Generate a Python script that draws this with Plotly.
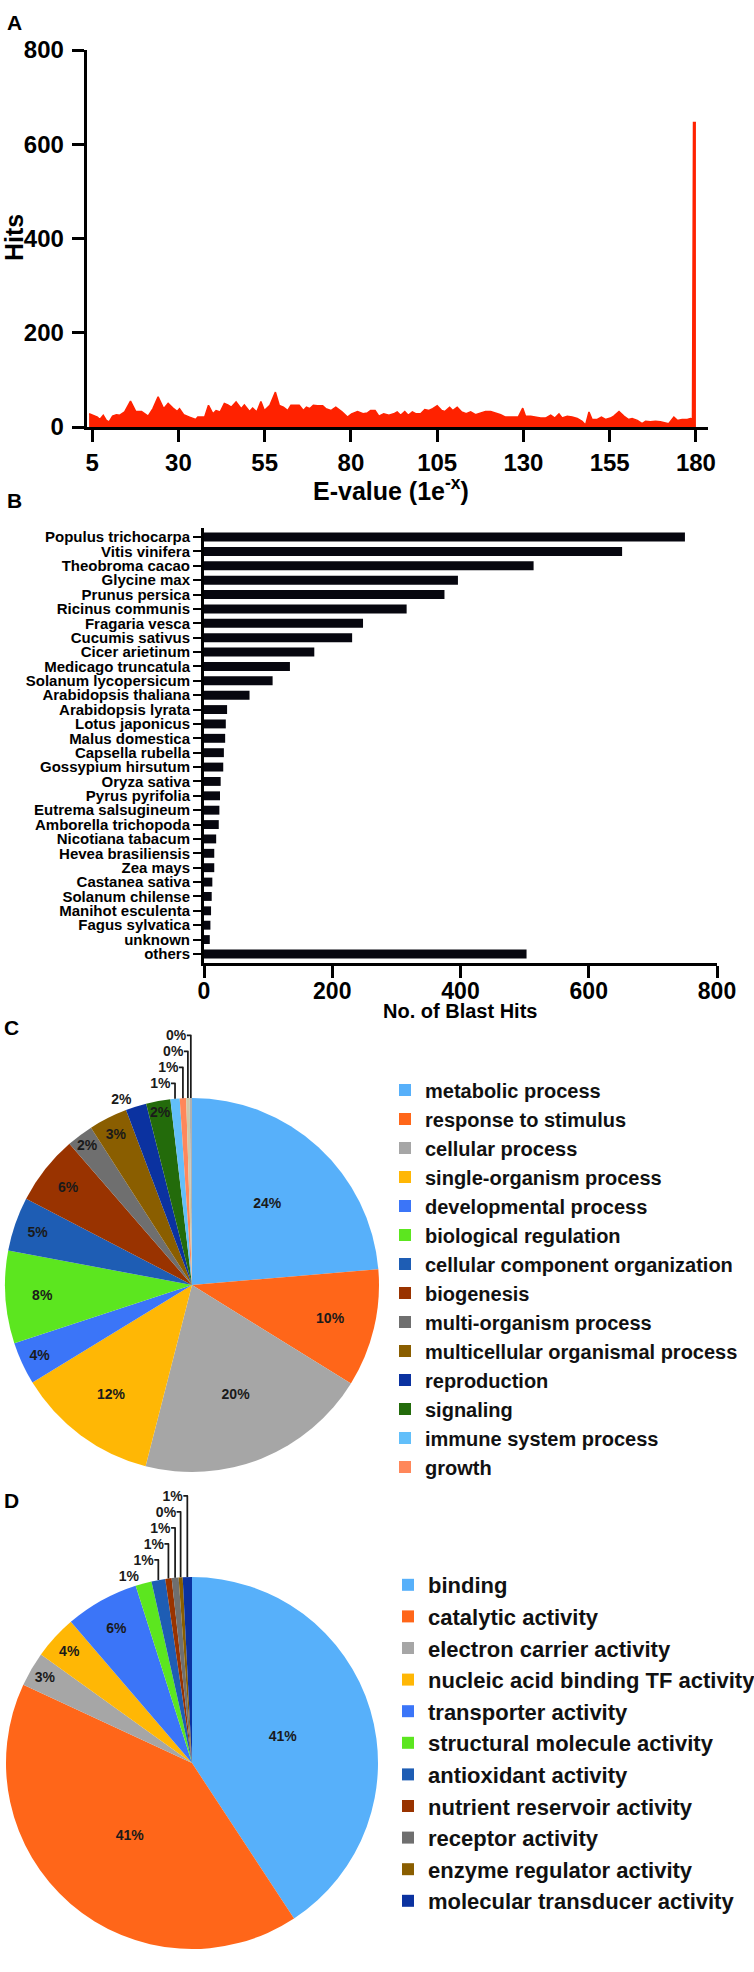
import plotly.graph_objects as go

# ---------------- Panel A: E-value distribution ----------------
evalue_exp = [4.1, 5.3, 6.5, 7.2, 8.2, 9.1, 9.9, 10.9, 12.0, 13.0, 14.4, 16.1, 17.6, 19.3, 21.2, 22.6, 24.1,
              25.7, 27.0, 28.4, 29.6, 30.3, 31.5, 33.2, 35.0, 35.6, 37.6, 38.7, 40.0, 40.9, 42.1, 43.3, 44.3,
              45.3, 46.7, 48.2, 49.1, 50.6, 51.5, 52.7, 53.9, 54.9, 56.5, 58.1, 59.2, 60.4, 61.7, 62.6, 64.1,
              65.0, 66.2, 67.1, 68.1, 69.1, 70.3, 71.8, 72.7, 74.2, 75.6, 77.4, 79.0, 80.2, 81.9, 83.5, 84.8,
              85.7, 87.0,
              88.1, 89.5, 91.0, 92.4, 93.4, 94.4, 95.6, 96.6, 97.8, 98.9, 100.2, 101.4, 102.6, 103.7, 105.0,
              106.3, 107.2, 108.6, 109.5, 110.8, 112.1, 113.4, 114.7, 116.1, 117.6, 119.0, 120.5, 121.9, 123.4,
              124.8, 126.7, 128.5, 129.8, 130.6, 132.1, 133.5, 135.0, 136.4, 137.9, 139.1, 140.3, 141.2, 142.7,
              144.1, 145.6, 147.0, 148.0, 149.0, 149.9, 151.4, 152.6, 153.8, 155.2, 156.2, 157.7, 159.1, 160.4,
              161.5, 163.0, 164.4, 165.4, 166.8, 168.3, 169.7, 171.1, 172.1, 173.6, 174.6, 176.0, 177.5, 178.4,
              179.0, 179.3, 180.0]
hits = [28, 25, 21, 16, 25, 14, 11, 23, 26, 25, 32, 55, 33, 33, 23, 39, 64,
        39, 50, 40, 33, 39, 26, 21, 16, 21, 21, 46, 28, 35, 32, 50, 47,
        42, 53, 39, 47, 33, 40, 32, 54, 35, 46, 74, 46, 42, 35, 46, 46,
        46, 35, 42, 39, 46, 45, 45, 39, 35, 42, 32, 21, 28, 33, 28, 30,
        35, 35,
        23, 28, 25, 28, 32, 25, 33, 25, 32, 28, 28, 37, 35, 39, 45,
        35, 33, 42, 35, 42, 32, 28, 32, 26, 30, 33, 33, 30, 26,
        21, 21, 21, 40, 23, 23, 21, 19, 19, 25, 19, 28, 19, 23,
        21, 18, 12, 4, 32, 16, 16, 21, 16, 19, 23, 33, 23, 16,
        18, 14, 7, 12, 11, 12, 11, 9, 7, 21, 14, 16, 16, 18,
        17, 646, 646]
evalue_ticks = [5, 30, 55, 80, 105, 130, 155, 180]
hits_ticks = [0, 200, 400, 600, 800]

# ---------------- Panel B: species distribution ----------------
species = ["Populus trichocarpa", "Vitis vinifera", "Theobroma cacao", "Glycine max", "Prunus persica",
           "Ricinus communis", "Fragaria vesca", "Cucumis sativus", "Cicer arietinum", "Medicago truncatula",
           "Solanum lycopersicum", "Arabidopsis thaliana", "Arabidopsis lyrata", "Lotus japonicus",
           "Malus domestica", "Capsella rubella", "Gossypium hirsutum", "Oryza sativa", "Pyrus pyrifolia",
           "Eutrema salsugineum", "Amborella trichopoda", "Nicotiana tabacum", "Hevea brasiliensis",
           "Zea mays", "Castanea sativa", "Solanum chilense", "Manihot esculenta", "Fagus sylvatica",
           "unknown", "others"]
blast_hits = [750, 652, 514, 396, 375, 316, 248, 231, 172, 134, 107, 71, 36, 34, 33, 31, 30, 26, 25,
              24, 23, 19, 16, 16, 13, 12, 11, 10, 9, 503]
blast_ticks = [0, 200, 400, 600, 800]

# ---------------- Panel C: biological process ----------------
bp_terms = ["metabolic process", "response to stimulus", "cellular process", "single-organism process",
            "developmental process", "biological regulation", "cellular component organization",
            "biogenesis", "multi-organism process", "multicellular organismal process", "reproduction",
            "signaling", "immune system process", "growth", "unlisted term 1", "unlisted term 2"]
bp_pct = [23.7, 10.2, 20.2, 12.3, 3.7, 8.0, 4.7, 6.0, 2.3, 3.35, 1.8, 2.1, 0.8, 0.55, 0.3, 0.2]
bp_colors = ["#57B0FA", "#FF6619", "#A6A6A6", "#FFB705", "#3B75F8", "#5CE61F", "#1E5DB4", "#993300",
             "#6F6F6F", "#8A5E00", "#0B32A0", "#236B0B", "#62BFFA", "#FF875A", "#CFC8A8", "#B0B0B0"]
bp_in_legend = 14

# ---------------- Panel D: molecular function ----------------
mf_terms = ["binding", "catalytic activity", "electron carrier activity", "nucleic acid binding TF activity",
            "transporter activity", "structural molecule activity", "antioxidant activity",
            "nutrient reservoir activity", "receptor activity", "enzyme regulator activity",
            "molecular transducer activity"]
mf_pct = [40.8, 41.2, 3.0, 3.8, 6.4, 1.4, 1.2, 0.55, 0.6, 0.35, 0.8]
mf_colors = ["#57B0FA", "#FF6619", "#A6A6A6", "#FFB705", "#3B75F8", "#5CE61F", "#1E5DB4", "#993300",
             "#6F6F6F", "#8A5E00", "#0B32A0"]

W, H = 754, 1972
FONT = "Liberation Sans, Arial, Helvetica, sans-serif"


def px(x):
    return x / W


def py(y):
    return 1 - y / H


fig = go.Figure()

# Panel A
fig.add_trace(go.Scatter(x=evalue_exp, y=hits, mode="lines", fill="tozeroy",
                         line=dict(color="#FF2200", width=1.5), fillcolor="#FF2200",
                         xaxis="x", yaxis="y", showlegend=False, hoverinfo="skip"))

# Panel B
fig.add_trace(go.Bar(y=species, x=blast_hits, orientation="h", width=0.62,
                     marker=dict(color="#07070F", line=dict(width=0)),
                     xaxis="x2", yaxis="y2", showlegend=False))

pie_font = dict(family=FONT, size=14, weight="bold", color="#1a1a1a")

# Panel C pie
bp_pos = ["inside"] * 10 + ["outside", "inside", "outside", "outside", "outside", "outside"]
fig.add_trace(go.Pie(labels=bp_terms, values=bp_pct, sort=False, direction="clockwise", rotation=0,
                     marker=dict(colors=bp_colors, line=dict(width=0)),
                     texttemplate="%{percent:.0%}", textposition=bp_pos,
                     insidetextorientation="horizontal",
                     textfont=pie_font, insidetextfont=pie_font, outsidetextfont=pie_font,
                     domain=dict(x=[px(5), px(379)], y=[py(1472), py(1098)]),
                     showlegend=False, hoverinfo="label+percent"))
# legend entries for panel C (only the listed terms)
fig.add_trace(go.Pie(labels=bp_terms[:bp_in_legend], values=bp_pct[:bp_in_legend], sort=False,
                     marker=dict(colors=bp_colors[:bp_in_legend], line=dict(width=0)),
                     textinfo="none", domain=dict(x=[0.9995, 1.0], y=[0.0, 0.0003]),
                     showlegend=True, legend="legend", hoverinfo="skip"))

# Panel D pie
mf_pos = ["inside"] * 5 + ["outside"] * 6
fig.add_trace(go.Pie(labels=mf_terms, values=mf_pct, sort=False, direction="clockwise", rotation=0,
                     marker=dict(colors=mf_colors, line=dict(width=0)),
                     texttemplate="%{percent:.0%}", textposition=mf_pos,
                     insidetextorientation="horizontal",
                     textfont=pie_font, insidetextfont=pie_font, outsidetextfont=pie_font,
                     domain=dict(x=[px(6), px(378)], y=[py(1949), py(1577)]),
                     showlegend=True, legend="legend2", hoverinfo="label+percent"))

axis_common = dict(showline=True, linecolor="black", linewidth=3, ticks="outside", tickcolor="black",
                   showgrid=False, zeroline=False, fixedrange=True)

fig.update_layout(
    width=W, height=H,
    margin=dict(l=0, r=0, t=0, b=0, autoexpand=False),
    paper_bgcolor="white", plot_bgcolor="white",
    font=dict(family=FONT, color="black"),
    uniformtext=dict(minsize=14, mode="show"),
    xaxis=dict(domain=[px(86.7), px(708)], range=[3.4, 183.5], tickvals=evalue_ticks,
               ticklen=12, tickwidth=3, anchor="y",
               tickfont=dict(family=FONT, size=24, weight="bold", color="black"), **axis_common),
    yaxis=dict(domain=[py(427), py(50)], range=[0, 800], tickvals=hits_ticks,
               ticklen=12, tickwidth=3, anchor="x", ticklabelstandoff=3,
               tickfont=dict(family=FONT, size=24, weight="bold", color="black"), **axis_common),
    xaxis2=dict(domain=[px(204), px(717)], range=[0, 800], tickvals=blast_ticks,
                ticklen=12, tickwidth=3, anchor="y2", ticklabelstandoff=-7,
                tickfont=dict(family=FONT, size=23, weight="bold", color="black"), **axis_common),
    yaxis2=dict(domain=[py(963), py(528)], type="category", range=[len(species) - 0.37, -0.63],
                tickmode="array", tickvals=species, ticktext=species,
                ticklen=8, tickwidth=2, anchor="x2",
                tickfont=dict(family=FONT, size=15, weight="bold", color="black"), **axis_common),
    legend=dict(x=px(385), y=py(1070.5), xanchor="left", yanchor="top", orientation="v",
                font=dict(family=FONT, size=20, weight="bold", color="#111"),
                bgcolor="rgba(0,0,0,0)", borderwidth=0, itemclick=False, itemdoubleclick=False),
    legend2=dict(x=px(388), y=py(1564), xanchor="left", yanchor="top", orientation="v",
                 font=dict(family=FONT, size=22, weight="bold", color="#111"),
                 bgcolor="rgba(0,0,0,0)", borderwidth=0, itemclick=False, itemdoubleclick=False),
    showlegend=True,
)

ann_font = lambda s: dict(family=FONT, size=s, weight="bold", color="black")
annotations = [
    dict(text="A", x=px(14), y=py(22), font=ann_font(21)),
    dict(text="B", x=px(14), y=py(500), font=ann_font(21)),
    dict(text="C", x=px(11), y=py(1027), font=ann_font(21)),
    dict(text="D", x=px(11), y=py(1500), font=ann_font(21)),
    dict(text="Hits", x=px(14), y=py(238), textangle=-90, font=ann_font(25)),
    dict(text="E-value (1e<sup>-x</sup>)", x=px(391), y=py(489), font=ann_font(25)),
    dict(text="No. of Blast Hits", x=px(460), y=py(1011), font=ann_font(20)),
]
for a in annotations:
    a.update(xref="paper", yref="paper", showarrow=False, xanchor="center", yanchor="middle")
fig.update_layout(annotations=annotations)

fig.write_html("out.html", config={"displayModeBar": False},
               post_script="document.body.style.margin='0px';")
